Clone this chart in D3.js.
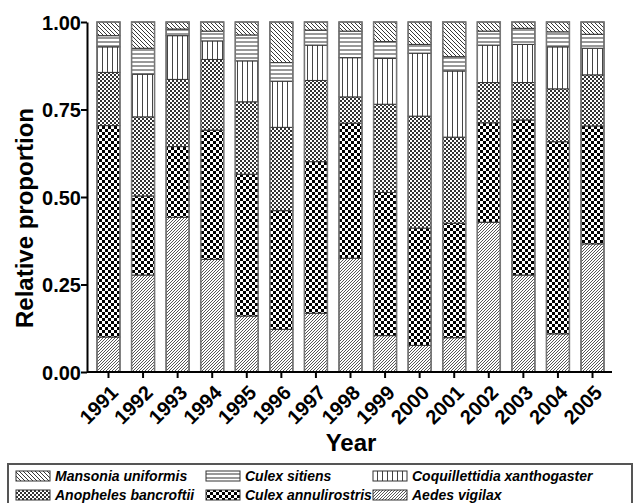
<!DOCTYPE html>
<html>
<head>
<meta charset="utf-8">
<script src="https://cdn.jsdelivr.net/npm/d3@7/dist/d3.min.js"></script>
<style>
  html, body { margin: 0; padding: 0; background: #fff; }
  svg { display: block; font-family: "Liberation Sans", Arial, sans-serif; }
</style>
</head>
<body>
<svg id="chart" width="639" height="503"></svg>
<script>
// Survey years
const years = ["1991","1992","1993","1994","1995","1996","1997","1998","1999","2000","2001","2002","2003","2004","2005"];

// Relative proportion of each species per year (stacked bottom to top)
const aedesVigilax         = [0.100,0.277,0.442,0.322,0.160,0.122,0.168,0.325,0.104,0.076,0.098,0.428,0.277,0.109,0.366];
const culexAnnulirostris   = [0.604,0.226,0.202,0.369,0.405,0.339,0.433,0.386,0.409,0.335,0.327,0.284,0.443,0.549,0.337];
const anophelesBancroftii  = [0.152,0.226,0.192,0.202,0.207,0.238,0.232,0.075,0.252,0.320,0.246,0.115,0.107,0.151,0.146];
const coquillettidiaXantho = [0.073,0.122,0.125,0.053,0.117,0.132,0.101,0.112,0.131,0.180,0.189,0.107,0.109,0.120,0.076];
const culexSitiens         = [0.032,0.074,0.019,0.028,0.074,0.053,0.043,0.076,0.048,0.025,0.041,0.040,0.046,0.043,0.040];
const mansoniaUniformis    = [0.039,0.075,0.020,0.026,0.037,0.116,0.023,0.026,0.056,0.064,0.099,0.026,0.018,0.028,0.035];

const yTicks = [0, 0.25, 0.5, 0.75, 1.0];

const series = [
  { key: "aedes",   name: "Aedes vigilax",               values: aedesVigilax },
  { key: "cxann",   name: "Culex annulirostris",         values: culexAnnulirostris },
  { key: "anoph",   name: "Anopheles bancroftii",        values: anophelesBancroftii },
  { key: "coq",     name: "Coquillettidia xanthogaster", values: coquillettidiaXantho },
  { key: "cxsit",   name: "Culex sitiens",               values: culexSitiens },
  { key: "mans",    name: "Mansonia uniformis",          values: mansoniaUniformis }
];

const rows = years.map((y, i) => {
  const r = { year: y };
  series.forEach(s => r[s.key] = s.values[i]);
  return r;
});

const svg = d3.select("#chart");
const defs = svg.append("defs");

// ---- hatch / checker fills ----
function pat(id, w, h) {
  return defs.append("pattern").attr("id", id)
    .attr("patternUnits", "userSpaceOnUse").attr("width", w).attr("height", h);
}
// Mansonia: back-diagonal lines
(function () {
  const p = pat("p-mans", 4, 4);
  p.append("rect").attr("width", 4).attr("height", 4).attr("fill", "#fff");
  p.append("path").attr("d", "M-1,-1 L5,5 M-1,3 L1,5 M3,-1 L5,1")
    .attr("stroke", "#222").attr("stroke-width", 0.9);
})();
// Culex sitiens: horizontal lines
(function () {
  const p = pat("p-cxsit", 6, 4);
  p.append("rect").attr("width", 6).attr("height", 4).attr("fill", "#fff");
  p.append("rect").attr("y", 1.5).attr("width", 6).attr("height", 1).attr("fill", "#333");
})();
// Coquillettidia: vertical lines
(function () {
  const p = pat("p-coq", 5, 6);
  p.append("rect").attr("width", 5).attr("height", 6).attr("fill", "#fff");
  p.append("rect").attr("x", 2).attr("width", 1).attr("height", 6).attr("fill", "#444");
})();
// Anopheles: fine checker
(function () {
  const p = pat("p-anoph", 4, 4);
  p.append("rect").attr("width", 4).attr("height", 4).attr("fill", "#fff");
  p.append("rect").attr("width", 2).attr("height", 2).attr("fill", "#333");
  p.append("rect").attr("x", 2).attr("y", 2).attr("width", 2).attr("height", 2).attr("fill", "#333");
})();
// Culex annulirostris: coarse checker
(function () {
  const p = pat("p-cxann", 6, 6);
  p.append("rect").attr("width", 6).attr("height", 6).attr("fill", "#fff");
  p.append("rect").attr("width", 3).attr("height", 3).attr("fill", "#000");
  p.append("rect").attr("x", 3).attr("y", 3).attr("width", 3).attr("height", 3).attr("fill", "#000");
})();
// Aedes: forward-diagonal lines
(function () {
  const p = pat("p-aedes", 3, 3);
  p.append("rect").attr("width", 3).attr("height", 3).attr("fill", "#fff");
  p.append("path").attr("d", "M-1,4 L4,-1 M-1,1 L1,-1 M2,4 L4,2")
    .attr("stroke", "#444").attr("stroke-width", 0.9);
})();

// ---- scales ----
const x = d3.scaleBand().domain(years).range([88, 613]).paddingInner(0.335).paddingOuter(0.26);
const y = d3.scaleLinear().domain([0, 1]).range([372, 22]);

const stack = d3.stack().keys(series.map(s => s.key)).offset(d3.stackOffsetExpand);
const layers = stack(rows);

// ---- bars ----
const g = svg.append("g");
layers.forEach(layer => {
  g.append("g").selectAll("rect").data(layer).join("rect")
    .attr("x", d => x(d.data.year))
    .attr("width", x.bandwidth())
    .attr("y", d => y(d[1]))
    .attr("height", d => y(d[0]) - y(d[1]))
    .attr("fill", `url(#p-${layer.key})`)
    .attr("stroke", "#333").attr("stroke-width", 1);
});
// bar outlines
g.append("g").selectAll("rect").data(years).join("rect")
  .attr("x", d => x(d)).attr("width", x.bandwidth())
  .attr("y", y(1)).attr("height", y(0) - y(1))
  .attr("fill", "none").attr("stroke", "#777").attr("stroke-width", 1.5);

// ---- axes ----
const yAxis = svg.append("g").attr("transform", "translate(87,0)")
  .call(d3.axisLeft(y).tickValues(yTicks).tickFormat(d3.format(".2f")).tickSize(6).tickSizeOuter(0));
yAxis.select(".domain").attr("stroke", "#000").attr("stroke-width", 2);
yAxis.selectAll(".tick line").attr("stroke", "#000").attr("stroke-width", 2);
yAxis.selectAll(".tick text").attr("font-size", 20).attr("font-weight", "bold")
  .attr("font-family", "Liberation Sans, Arial, sans-serif").attr("fill", "#000").attr("x", -6).attr("dy", "0.36em");

const xAxis = svg.append("g").attr("transform", "translate(0,372)")
  .call(d3.axisBottom(x).tickSize(6).tickSizeOuter(0));
xAxis.select(".domain").attr("d", "M87,0H612").attr("stroke", "#000").attr("stroke-width", 2);
xAxis.selectAll(".tick line").attr("stroke", "#000").attr("stroke-width", 2);
xAxis.selectAll(".tick text")
  .attr("font-size", 20).attr("font-weight", "bold")
  .attr("font-family", "Liberation Sans, Arial, sans-serif").attr("fill", "#000")
  .attr("text-anchor", "end").attr("x", 0).attr("y", 0).attr("dy", "0.35em")
  .attr("transform", "translate(6,17) rotate(-45)");

// axis titles
svg.append("text").attr("x", 351).attr("y", 451).attr("text-anchor", "middle")
  .attr("font-size", 24).attr("font-weight", "bold").text("Year");
svg.append("text").attr("transform", "translate(33,218) rotate(-90)").attr("text-anchor", "middle")
  .attr("font-size", 24).attr("font-weight", "bold").text("Relative proportion");

// ---- legend ----
const legend = svg.append("g");
legend.append("rect").attr("x", 8).attr("y", 464).attr("width", 624).attr("height", 45)
  .attr("fill", "#fff").attr("stroke", "#555").attr("stroke-width", 2);
const legendItems = [
  { key: "mans",  col: 0, row: 0 },
  { key: "cxsit", col: 1, row: 0 },
  { key: "coq",   col: 2, row: 0 },
  { key: "anoph", col: 0, row: 1 },
  { key: "cxann", col: 1, row: 1 },
  { key: "aedes", col: 2, row: 1 }
];
const colX = [16, 206, 373];
const rowY = [471, 490];
legendItems.forEach(it => {
  const s = series.find(d => d.key === it.key);
  const lx = colX[it.col], ly = rowY[it.row];
  legend.append("rect").attr("x", lx).attr("y", ly).attr("width", 34).attr("height", 10)
    .attr("fill", `url(#p-${it.key})`).attr("stroke", "#333").attr("stroke-width", 1);
  legend.append("text").attr("x", lx + 39).attr("y", ly + 10)
    .attr("font-size", 14).attr("font-weight", "bold").attr("font-style", "italic")
    .text(s.name);
});
</script>
</body>
</html>
